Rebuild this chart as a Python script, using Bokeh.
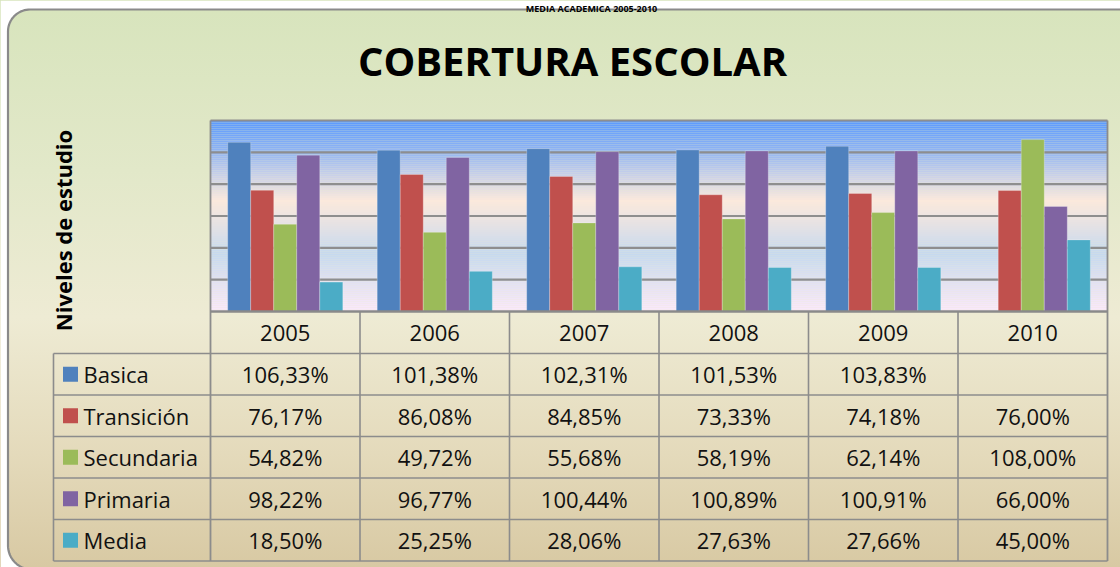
import numpy as np
from bokeh.plotting import figure
from bokeh.models import Range1d, ColumnDataSource
from bokeh.transform import dodge
from bokeh.embed import file_html
from bokeh.resources import INLINE
from bokeh.core.properties import value

# ---------------- data ----------------
years = ["2005", "2006", "2007", "2008", "2009", "2010"]
series = ["Basica", "Transición", "Secundaria", "Primaria", "Media"]
basica = [106.33, 101.38, 102.31, 101.53, 103.83, np.nan]
transicion = [76.17, 86.08, 84.85, 73.33, 74.18, 76.00]
secundaria = [54.82, 49.72, 55.68, 58.19, 62.14, 108.00]
primaria = [98.22, 96.77, 100.44, 100.89, 100.91, 66.00]
media = [18.50, 25.25, 28.06, 27.63, 27.66, 45.00]
colors = ["#4f81bd", "#c0504d", "#9bbb59", "#8064a2", "#4bacc6"]
top_text = "MEDIA ACADEMICA 2005-2010"
title = "COBERTURA ESCOLAR"
y_title = "Niveles de estudio"
y_max = 120
grid_step = 20

values = [basica, transicion, secundaria, primaria, media]

# ---------------- layout (pixels) ----------------
W, H = 1120, 567
PX0, PX1 = 210, 1107          # plot area left/right
PY0, PY1 = 120, 311           # plot area top/bottom
LEG_X = 53
HEAD_Y = 332.5
ROW_LINES = [353, 394.5, 436, 477.5, 519, 560.5]
FONT = value("Open Sans")
LINE_C = "#8c8c8c"
BORDER_C = "#8a8a8a"


def Y(r):
    return -r


p = figure(width=W, height=H, output_backend="svg", toolbar_location=None,
           x_range=Range1d(0, W), y_range=Range1d(-H, 0),
           min_border=0, outline_line_color=None,
           background_fill_alpha=0, border_fill_alpha=0)
p.axis.visible = False
p.grid.visible = False
p.styles = {
    "background": "linear-gradient(180deg, #d7e4bc 0%, #e2e8c9 30%, #eeebd4 56%, #e4dabb 80%, #d8c9a3 100%)",
}

# bar ranges mapped onto the plot area
ncol = len(years)
cw = (PX1 - PX0) / ncol
bx0 = -0.5 - PX0 / cw
bx1 = ncol - 0.5 + (W - PX1) / cw
sy = (PY1 - PY0) / y_max
by0 = -(H - PY1) / sy
by1 = y_max + PY0 / sy
p.extra_x_ranges = {"bx": Range1d(bx0, bx1)}
p.extra_y_ranges = {"by": Range1d(by0, by1)}

# container outline (rounded left corners) + white outside mask
CL, CT = 7.5, 9.0
r1, c1 = 22.0, (CL + 22.0, CT + 22.0)
r2, c2 = 24.0, (CL + 24.0, 545.0)
a1 = np.linspace(np.pi / 2, np.pi, 20)
a2 = np.linspace(np.pi, np.pi + 0.41 * np.pi, 20)
arc1_x = list(c1[0] + r1 * np.cos(a1))
arc1_y = list(c1[1] - r1 * np.sin(a1))
arc2_x = list(c2[0] + r2 * np.cos(a2))
arc2_y = list(c2[1] - r2 * np.sin(a2))
out_x = [W] + arc1_x + arc2_x
out_y = [CT] + arc1_y + arc2_y
mask_x = [0, W] + out_x + [0]
mask_y = [0, 0] + out_y + [H]
p.patch(mask_x, [Y(v) for v in mask_y], fill_color="white", line_color=None)
p.line(out_x, [Y(v) for v in out_y], line_color=BORDER_C, line_width=2.2)

# plot-area gradient (styling strips)
stops = [(0.0, "#5a99ff"), (0.14, "#8ab1f4"), (0.3, "#cfd3e8"), (0.42, "#fbe9dc"),
         (0.56, "#e3e1e5"), (0.7, "#c5d9ef"), (0.86, "#e4e2f3"), (1.0, "#fbe9fb")]


def hx(h):
    return np.array([int(h[i:i + 2], 16) for i in (1, 3, 5)], dtype=float)


def grad(t):
    for (t0, c0), (t1, c1_) in zip(stops[:-1], stops[1:]):
        if t <= t1:
            f = (t - t0) / (t1 - t0)
            c = hx(c0) * (1 - f) + hx(c1_) * f
            return "#%02x%02x%02x" % tuple(int(round(v)) for v in c)
    return stops[-1][1]


n = 96
tops = [y_max * (1 - i / n) for i in range(n)]
bots = [y_max * (1 - (i + 1) / n) for i in range(n)]
cols = [grad((i + 0.5) / n) for i in range(n)]
p.quad(left=-0.5, right=ncol - 0.5, top=tops, bottom=bots, fill_color=cols,
       line_color=None, x_range_name="bx", y_range_name="by")

# gridlines
gl = list(np.arange(grid_step, y_max + 0.1, grid_step))
p.segment(x0=-0.5, x1=ncol - 0.5, y0=gl, y1=gl, line_color="#8e8e8e", line_width=2.2,
          x_range_name="bx", y_range_name="by")

# bars
src = ColumnDataSource(dict(idx=list(range(ncol)), **{f"s{i}": v for i, v in enumerate(values)}))
bw = 0.154
for i, (name, col) in enumerate(zip(series, colors)):
    p.vbar(x=dodge("idx", (i - 2) * bw, range=None), top=f"s{i}", bottom=0, width=bw,
           source=src, fill_color=col, line_color="white", line_alpha=0.25, line_width=1,
           x_range_name="bx", y_range_name="by")

# table lines
p.segment(x0=[PX0, PX1], x1=[PX0, PX1], y0=[Y(PY0)] * 2, y1=[Y(ROW_LINES[-1])] * 2,
          line_color=LINE_C, line_width=1.8)
p.segment(x0=[PX0 + cw * k for k in range(1, ncol)], x1=[PX0 + cw * k for k in range(1, ncol)],
          y0=[Y(PY1)] * (ncol - 1), y1=[Y(ROW_LINES[-1])] * (ncol - 1),
          line_color=LINE_C, line_width=1.6)
p.segment(x0=[LEG_X], x1=[LEG_X], y0=[Y(ROW_LINES[0])], y1=[Y(ROW_LINES[-1])],
          line_color=LINE_C, line_width=1.6)
p.segment(x0=[PX0], x1=[PX1], y0=[Y(PY1)], y1=[Y(PY1)], line_color="#8a8a8a", line_width=2.4)
p.segment(x0=[LEG_X] * len(ROW_LINES), x1=[PX1] * len(ROW_LINES),
          y0=[Y(r) for r in ROW_LINES], y1=[Y(r) for r in ROW_LINES],
          line_color=LINE_C, line_width=1.6)

# year header
p.text(x=list(range(ncol)), y=[Y(HEAD_Y)] * ncol, text=years, text_font=FONT,
       text_font_size="22px", text_align="center", text_baseline="middle",
       text_color="#111111", x_range_name="bx")

# table rows
row_c = [(a + b) / 2 for a, b in zip(ROW_LINES[:-1], ROW_LINES[1:])]
for i, (name, col, vals) in enumerate(zip(series, colors, values)):
    yc = Y(row_c[i])
    labels = ["" if np.isnan(v) else (f"{v:.2f}".replace(".", ",") + "%") for v in vals]
    p.text(x=list(range(ncol)), y=[yc] * ncol, text=labels, text_font=FONT,
           text_font_size="22px", text_align="center", text_baseline="middle",
           text_color="#111111", x_range_name="bx")
    p.scatter(x=[70], y=[yc], marker="square", size=15, fill_color=col, line_color=None)
    p.text(x=[83], y=[yc], text=[name], text_font=FONT, text_font_size="22px",
           text_align="left", text_baseline="middle", text_color="#111111")

# titles
p.text(x=[591], y=[Y(7.6)], text=[top_text], text_font=FONT, text_font_size="9px",
       text_font_style="bold", text_align="center", text_baseline="alphabetic",
       text_color="#000000")
p.text(x=[572], y=[Y(60)], text=[title], text_font=FONT, text_font_size="40px",
       text_font_style="bold", text_align="center", text_baseline="middle",
       text_color="#000000")
p.text(x=[62], y=[Y(230)], text=[y_title], text_font=FONT, text_font_size="22px",
       text_font_style="bold", text_align="center", text_baseline="middle",
       text_color="#000000", angle=np.pi / 2)

open("out.html", "w").write(file_html(p, INLINE))
